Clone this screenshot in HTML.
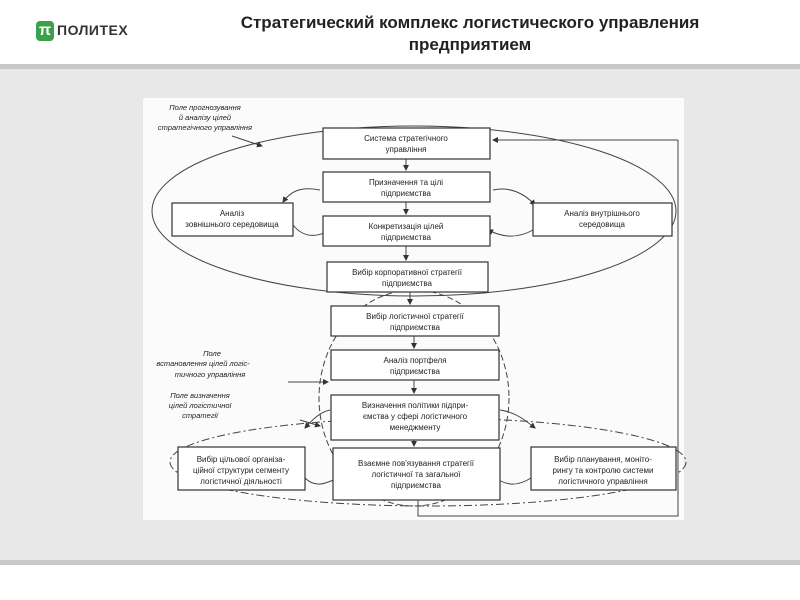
<!DOCTYPE html>
<html><head><meta charset="utf-8"><style>
html,body{margin:0;padding:0;width:800px;height:600px;overflow:hidden;background:#fff;font-family:"Liberation Sans","DejaVu Sans",sans-serif}
.hdr{position:absolute;left:0;top:0;width:800px;height:64px;background:#fff}
.title{position:absolute;left:180px;top:12px;width:580px;text-align:center;font-weight:bold;font-size:17px;line-height:22px;color:#222}
.band{position:absolute;left:0;top:64px;width:800px;height:5px;background:#c8c8c8}
.bg{position:absolute;left:0;top:69px;width:800px;height:491px;background:#e8e8e8}
.band2{position:absolute;left:0;top:560px;width:800px;height:5px;background:#c8c8c8}
svg{position:absolute;left:0;top:0}
</style></head><body>
<div class="hdr"></div>
<div style="position:absolute;left:36px;top:21px;width:18px;height:20px;background:#3aa14a;border-radius:4px;color:#fff;font-weight:bold;font-size:16px;line-height:20px;text-align:center">π</div>
<div style="position:absolute;left:57px;top:22px;font-size:14px;font-weight:bold;color:#333;letter-spacing:0.5px">ПОЛИТЕХ</div>
<div class="title">Стратегический комплекс логистического управления предприятием</div>
<div class="band"></div><div class="bg"></div><div class="band2"></div>
<svg width="800" height="600" font-family="Liberation Sans, sans-serif" font-size="8" fill="#222">
<defs><marker id="a" markerWidth="6" markerHeight="6" refX="5" refY="3" orient="auto"><path d="M0,0L6,3L0,6z" fill="#333"/></marker></defs>
<rect x="143" y="98" width="541" height="422" fill="#fbfbfb"/>
<g fill="none" stroke="#444" stroke-width="1">
<ellipse cx="414" cy="211" rx="262" ry="85"/>
<ellipse cx="414" cy="398" rx="95" ry="108" stroke-dasharray="6,3"/>
<ellipse cx="428" cy="462" rx="258" ry="44" stroke-dasharray="8,3,2,3"/>
<path d="M678,140V516H418V500" />
</g>
<g fill="none" stroke="#444" stroke-width="1" marker-end="url(#a)">
<path d="M678,140H493"/>
<path d="M406,159V170"/><path d="M406,202V214"/><path d="M406,246V260"/><path d="M410,292V304"/><path d="M414,336V348"/><path d="M414,380V393"/><path d="M414,440V446"/>
<path d="M232,136L262,146"/><path d="M288,382L328,382"/><path d="M300,420L320,426"/>
<path d="M320,190C300,186 290,192 283,202"/><path d="M293,225C305,240 320,236 330,230"/><path d="M493,190C510,186 525,194 535,205"/><path d="M533,230C515,240 500,236 488,230"/><path d="M330,410C320,412 312,420 305,428"/><path d="M500,410C515,412 525,420 535,428"/><path d="M305,478C315,488 325,484 338,478"/><path d="M531,478C515,488 505,484 495,478"/>
</g>
<g fill="#fff" stroke="#333" stroke-width="1.2">
<rect x="323" y="128" width="167" height="31"/><rect x="323" y="172" width="167" height="30"/><rect x="323" y="216" width="167" height="30"/><rect x="327" y="262" width="161" height="30"/>
<rect x="172" y="203" width="121" height="33"/><rect x="533" y="203" width="139" height="33"/>
<rect x="331" y="306" width="168" height="30"/><rect x="331" y="350" width="168" height="30"/><rect x="331" y="395" width="168" height="45"/><rect x="333" y="448" width="167" height="52"/>
<rect x="178" y="447" width="127" height="43"/><rect x="531" y="447" width="145" height="43"/>
</g>
<g text-anchor="middle">
<text x="406" y="141">Система стратегічного</text><text x="406" y="152">управління</text>
<text x="406" y="185">Призначення та цілі</text><text x="406" y="196">підприємства</text>
<text x="406" y="229">Конкретизація цілей</text><text x="406" y="240">підприємства</text>
<text x="407" y="275">Вибір корпоративної стратегії</text><text x="407" y="286">підприємства</text>
<text x="232" y="216">Аналіз</text><text x="232" y="227">зовнішнього середовища</text>
<text x="602" y="216">Аналіз внутрішнього</text><text x="602" y="227">середовища</text>
<text x="415" y="319">Вибір логістичної стратегії</text><text x="415" y="330">підприємства</text>
<text x="415" y="363">Аналіз портфеля</text><text x="415" y="374">підприємства</text>
<text x="415" y="408">Визначення політики підпри-</text><text x="415" y="419">ємства у сфері логістичного</text><text x="415" y="430">менеджменту</text>
<text x="416" y="466">Взаємне пов'язування стратегії</text><text x="416" y="477">логістичної та загальної</text><text x="416" y="488">підприємства</text>
<text x="241" y="462">Вибір цільової організа-</text><text x="241" y="473">ційної структури сегменту</text><text x="241" y="484">логістичної діяльності</text>
<text x="603" y="462">Вибір планування, моніто-</text><text x="603" y="473">рингу та контролю системи</text><text x="603" y="484">логістичного управління</text>
</g>
<g text-anchor="middle" font-style="italic" font-size="7.5">
<text x="205" y="110">Поле прогнозування</text><text x="205" y="120">й аналізу цілей</text><text x="205" y="130">стратегічного управління</text>
<text x="212" y="356">Поле</text><text x="203" y="366">встановлення цілей логіс-</text><text x="210" y="377">тичного управління</text>
<text x="200" y="398">Поле визначення</text><text x="200" y="408">цілей логістичної</text><text x="200" y="418">стратегії</text>
</g>
</svg>
</body></html>
